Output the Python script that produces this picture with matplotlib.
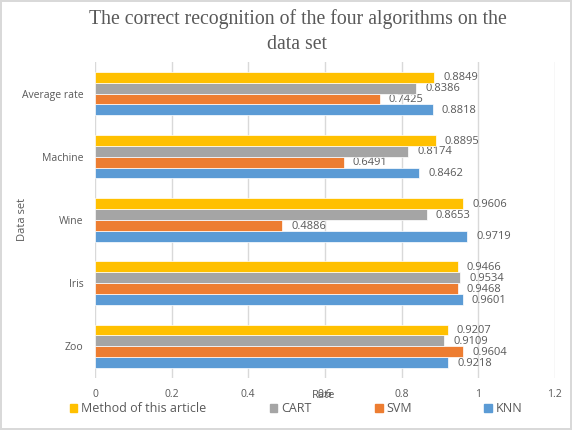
import numpy as np
import matplotlib
matplotlib.use("Agg")
import matplotlib.pyplot as plt
from matplotlib.patches import Rectangle

datasets = ["Zoo", "Iris", "Wine", "Machine", "Average rate"]
series = ["KNN", "SVM", "CART", "Method of this article"]
knn = [0.9218, 0.9601, 0.9719, 0.8462, 0.8818]
svm = [0.9604, 0.9468, 0.4886, 0.6491, 0.7425]
cart = [0.9109, 0.9534, 0.8653, 0.8174, 0.8386]
method = [0.9207, 0.9466, 0.9606, 0.8895, 0.8849]
colors = ["#5B9BD5", "#ED7D31", "#A5A5A5", "#FFC000"]
xticks = [0, 0.2, 0.4, 0.6, 0.8, 1.0, 1.2]
xtick_labels = ["0", "0.2", "0.4", "0.6", "0.8", "1", "1.2"]

txt = "#595959"
sans = ["Open Sans", "DejaVu Sans"]

fig = plt.figure(figsize=(5.72, 4.30), dpi=100)
fig.patch.set_edgecolor("#D9D9D9")
fig.patch.set_linewidth(1.5)
ax = fig.add_axes([0.166, 0.121, 0.804, 0.735])

y = np.arange(len(datasets))
h = 0.172
vals = [knn, svm, cart, method]
for i, (name, v, c) in enumerate(zip(series, vals, colors)):
    pos = y + (i - 1.5) * h
    ax.barh(pos, v, height=h, color=c, edgecolor="white", linewidth=0.5,
            label=name, zorder=3)
    for p, val in zip(pos, v):
        ax.annotate(f"{val:.4f}", (val, p), xytext=(6.5, -0.5),
                    textcoords="offset points", va="center", ha="left",
                    fontsize=8, color=txt, family=sans)

ax.set_xlim(0, 1.2)
ax.set_ylim(-0.5, len(datasets) - 0.5)
ax.set_xticks(xticks)
ax.set_xticklabels(xtick_labels)
ax.set_yticks(y)
ax.set_yticklabels(datasets)
ax.tick_params(length=0, labelsize=7.5, labelcolor=txt, pad=8)
for lab in ax.get_xticklabels() + ax.get_yticklabels():
    lab.set_family(sans)
ax.grid(axis="x", color="#D9D9D9", linewidth=1, zorder=0)
for s in ax.spines.values():
    s.set_visible(False)

# axis titles (Excel puts "Rate" right on top of the 0.6 tick label)
fig.text(0.565, 0.080, "Rate", ha="center", va="center", fontsize=8,
         color=txt, family=sans)
fig.text(0.040, 0.49, "Data set", ha="center", va="center", rotation=90,
         fontsize=8, color=txt, family=sans)

fig.text(0.52, 0.927, "The correct recognition of the four algorithms on the\ndata set",
         ha="center", va="center", fontsize=14.2, color=txt,
         family=["Liberation Serif", "DejaVu Serif"], linespacing=1.45)

# legend laid out like Excel's bottom legend
leg_x = [0.122, 0.472, 0.656, 0.847]
for x0, name, c in zip(leg_x, series[::-1], colors[::-1]):
    fig.add_artist(Rectangle((x0, 0.042), 0.013, 0.018, color=c,
                             transform=fig.transFigure))
    fig.text(x0 + 0.019, 0.051, name, ha="left", va="center", fontsize=9,
             color=txt, family=sans)

fig.savefig("out.png", dpi=100)
